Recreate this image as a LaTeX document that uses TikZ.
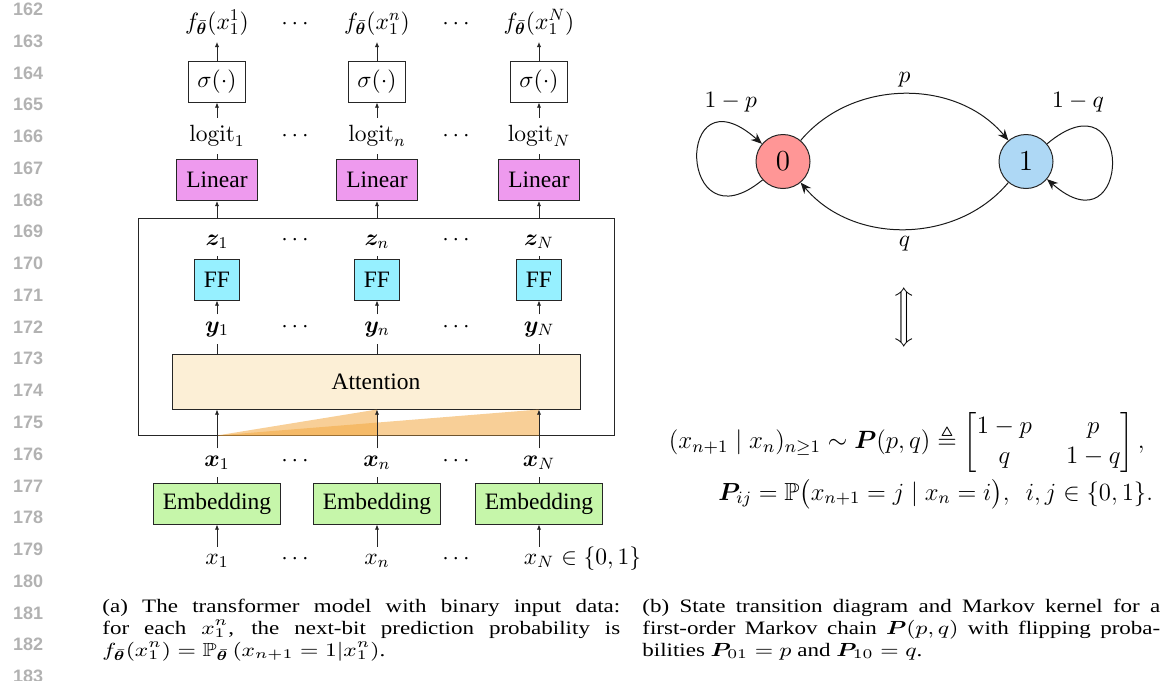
\RequirePackage{fix-cm}
\documentclass[tikz,border=0pt]{standalone}
\usepackage{amsmath,amssymb}
\usepackage{bm}
\usepackage{graphicx}
\usepackage[no-math]{fontspec}
\setmainfont{Liberation Serif}
\newfontfamily\lnfont{Liberation Sans}
\usetikzlibrary{arrows.meta}
\definecolor{linc}{RGB}{238,154,238}
\definecolor{ffc}{RGB}{150,240,255}
\definecolor{attc}{RGB}{252,239,214}
\definecolor{embc}{RGB}{198,246,170}
\definecolor{szero}{RGB}{255,150,150}
\definecolor{sone}{RGB}{174,216,245}
\definecolor{tric}{RGB}{242,168,65}
\definecolor{lncol}{RGB}{178,178,178}
\newcommand\dfont{\fontsize{11.75}{14}\selectfont}
\newcommand\eqfont{\fontsize{12.5}{15}\selectfont}
\newcommand\eqfontb{\fontsize{12.35}{15}\selectfont}
\newcommand\stfont{\fontsize{14.5}{17}\selectfont}
\newcommand\capfont{\fontsize{9.5}{11}\selectfont}
\newcommand\capbox[1]{\scalebox{1.21}[1]{\parbox[t]{214pt}{#1}}}
\begin{document}
\begin{tikzpicture}[x=0.5pt,y=0.5pt,
  lbl/.style={font=\dfont},
  bx/.style={draw=black!85,line width=0.5pt,minimum height=20.5pt,inner xsep=4.7pt,inner ysep=0pt,font=\dfont},
  arr/.style={-{Latex[length=2.6pt,width=2.2pt]},line width=0.45pt,draw=black!85},
  ln/.style={line width=0.45pt,draw=black!85},
  tri/.style={fill=tric,fill opacity=0.55},
  state/.style={circle,draw=black!85,line width=0.5pt,minimum size=27pt,inner sep=0pt,font=\stfont},
  sarr/.style={-{Stealth[length=5.5pt,width=4.5pt]},line width=0.5pt,draw=black!90},
  elbl/.style={font=\dfont},
  eqf/.style={font=\eqfont},
  lnum/.style={font=\lnfont\bfseries\fontsize{9}{11}\selectfont,text=lncol,inner sep=0pt,anchor=east},
  capf/.style={font=\capfont,inner sep=0pt,anchor=base west}]
\useasboundingbox (0,0) rectangle (1164,-681);
% line numbers
\foreach \i in {0,...,21}{
  \pgfmathtruncatemacro\num{162+\i}
  \node[lnum] (ln\num) at (43.5,-9.3-31.77*\i) {\num};
}
% big block and attention
\node[draw=black!85,line width=0.5pt,minimum width=238pt,minimum height=108.5pt,inner sep=0pt] (blk) at (376,-326.5) {};
\node[bx,fill=attc,minimum width=204pt,minimum height=27.5pt] (att) at (376,-381.5) {Attention};
% columns
\foreach \c/\s in {217/1,377/n,539/N}{
  \node[lbl,anchor=base] (f\s) at (\c,-29) {$f_{\bar{\bm\theta}}(x_1^{\s})$};
  \node[bx,fill=white] (s\s) at (\c,-81.5) {$\sigma(\cdot)$};
  \node[lbl,anchor=base] (l\s) at (\c,-141) {$\mathrm{logit}_{\s}$};
  \node[bx,fill=linc] (L\s) at (\c,-180) {Linear};
  \node[lbl,anchor=base] (z\s) at (\c,-245) {$\bm{z}_{\s}$};
  \node[bx,fill=ffc] (F\s) at (\c,-279.5) {FF};
  \node[lbl,anchor=base] (y\s) at (\c,-332) {$\bm{y}_{\s}$};
  \node[lbl,anchor=base] (xb\s) at (\c,-466) {$\bm{x}_{\s}$};
  \node[bx,fill=embc] (E\s) at (\c,-503.5) {Embedding};
  \node[lbl,anchor=base] (xi\s) at (\c,-564) {$x_{\s}$};
}
\node[lbl,anchor=base west,inner sep=0pt] (xiNs) at ([xshift=0pt]xiN.base east) {$\in\{0,1\}$};
% dots
\foreach \yy/\r in {29/f,141/l,245/z,332/y,466/xb,564/xi}{
  \node[lbl,anchor=base] (da\r) at (297,-\yy) {$\cdots$};
  \node[lbl,anchor=base] (db\r) at (458,-\yy) {$\cdots$};
}
% attention triangles
\fill[tri] (blk.south -| xb1) -- (att.south -| xbn) -- (blk.south -| xbn) -- cycle;
\fill[tri] (blk.south -| xb1) -- (att.south -| xbN) -- (blk.south -| xbN) -- cycle;
% connectors
\foreach \s in {1,n,N}{
  \draw[arr] (s\s) -- (f\s);
  \draw[arr] (l\s) -- (s\s);
  \draw[ln] (L\s) -- (l\s);
  \draw[arr] (L\s.south |- blk.north) -- (L\s);
  \draw[ln] (F\s) -- (z\s);
  \draw[arr] (y\s) -- (F\s);
  \draw[ln] (att.north -| y\s) -- (y\s);
  \draw[arr] (xb\s) -- (xb\s |- att.south);
  \draw[ln] (E\s) -- (xb\s);
  \draw[arr] (xi\s) -- (E\s);
}
% Markov chain
\node[state,fill=szero] (n0) at (783,-161.5) {$0$};
\node[state,fill=sone] (n1) at (1026,-161.5) {$1$};
\draw[sarr] (n0) to[bend left=50] node[elbl,above] (lp) {$p$} (n1);
\draw[sarr] (n1) to[bend left=50] node[elbl,below] (lq) {$q$} (n0);
\draw[sarr] (n0.-138) .. controls +(-85,-70) and +(-88,78) .. (n0.140);
\draw[sarr] (n1.40) .. controls +(88,74) and +(85,-75) .. (n1.-40);
\node[elbl] (lpp) at (730.7,-102) {$1-p$};
\node[elbl] (lqq) at (1078,-102) {$1-q$};
\node[eqf] (ud) at (904,-317) {$\bigg\Updownarrow$};
\node[eqf,anchor=west,inner sep=0pt] (eqa) at (668.5,-442) {$(x_{n+1}\mid x_n)_{n\geq1}\sim\bm{P}(p,q)\triangleq\setlength{\arraycolsep}{8.5pt}\begin{bmatrix}1-p & p\\ q & 1-q\end{bmatrix},$};
\node[font=\eqfontb,anchor=west,inner sep=0pt] (eqb) at (718,-494) {$\bm{P}_{ij}=\mathbb{P}\bigl(x_{n+1}=j\mid x_n=i\bigr),\ \ i,j\in\{0,1\}.$};
% captions
\node[capf] (capa) at (102,-612) {\capbox{(a) The transformer model with binary input data:\linebreak for each $x_1^n$, the next-bit prediction probability is\linebreak $f_{\bar{\bm\theta}}(x_1^n)=\mathbb{P}_{\bar{\bm\theta}}\left(x_{n+1}=1|x_1^n\right)$.}};
\node[capf] (capb) at (642,-612) {\capbox{(b) State transition diagram and Markov kernel for a\linebreak first-order Markov chain $\bm{P}(p,q)$ with flipping proba-\linebreak bilities $\bm{P}_{01}=p$ and $\bm{P}_{10}=q$.}};
\end{tikzpicture}
\end{document}
